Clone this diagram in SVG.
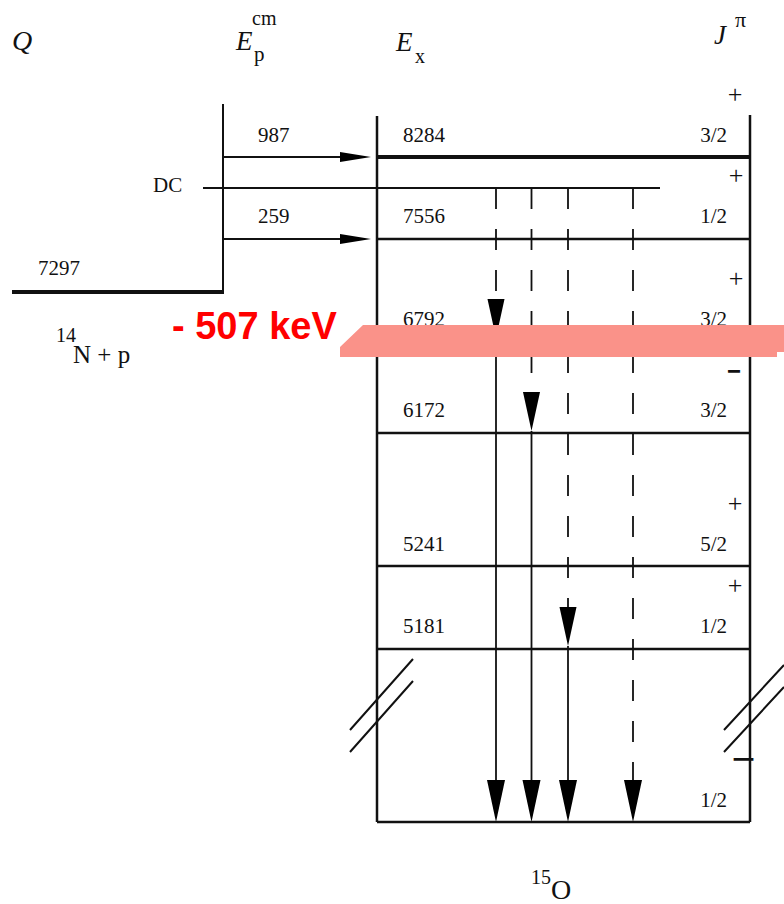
<svg xmlns="http://www.w3.org/2000/svg" width="784" height="904" viewBox="0 0 784 904">
<style>
.t{font-family:"Liberation Serif","Times New Roman",serif;fill:#111}
.n{font-size:21px}
.it{font-style:italic}
.pl{font-size:26px;text-anchor:middle}
.sp{text-anchor:end}
.mi{font-family:"Liberation Sans",Arial,sans-serif;font-weight:bold;font-size:26px;fill:#111}
.lv{stroke:#111;stroke-width:2.5;fill:none}
.ln{stroke:#111;stroke-width:2;fill:none}
.g{stroke:#111;stroke-width:1.8;fill:none}
.d{stroke-dasharray:21 20}
.ah{fill:#000}
</style>
<rect width="784" height="904" fill="#fff"/>

<g id="headers">
<text class="t it" x="12" y="50" font-size="28">Q</text>
<text class="t it" x="236" y="50" font-size="27">E</text>
<text class="t" x="252" y="25" font-size="20">cm</text>
<text class="t" x="254" y="61" font-size="21">p</text>
<text class="t it" x="396" y="51" font-size="27">E</text>
<text class="t" x="415" y="63" font-size="20">x</text>
<text class="t it" x="714" y="44" font-size="27">J</text>
<text class="t" x="735" y="27" font-size="22">π</text>
</g>

<g id="entrance">
<path class="lv" d="M223,104 V292" style="stroke-width:2"/>
<path class="lv" d="M12,292 H224" style="stroke-width:4"/>
<text class="t n" x="38" y="275">7297</text>
<text class="t" x="56" y="342" font-size="20">14</text>
<text class="t" x="73" y="363" font-size="25">N + p</text>
</g>

<g id="box">
<path class="lv" d="M377,116 V822 M750,115 V822"/>
</g>

<g id="level-8284">
<path class="lv" d="M377,157 H750" style="stroke-width:4"/>
<text class="t n" x="403" y="142">8284</text>
<text class="t n sp" x="727" y="142">3/2</text>
<text class="t pl" x="735" y="102.5">+</text>
</g>

<g id="level-7556">
<path class="lv" d="M377,239 H750"/>
<text class="t n" x="403" y="223">7556</text>
<text class="t n sp" x="727" y="223">1/2</text>
<text class="t pl" x="736" y="183.5">+</text>
</g>

<g id="level-6792">
<path class="lv" d="M377,341 H750"/>
<text class="t n" x="403" y="326">6792</text>
<text class="t n sp" x="727" y="326">3/2</text>
<text class="t pl" x="736" y="286.5">+</text>
</g>

<g id="level-6172">
<path class="lv" d="M377,433 H750"/>
<text class="t n" x="403" y="417">6172</text>
<text class="t n sp" x="727" y="417">3/2</text>
<text class="mi" x="727" y="380" textLength="14" lengthAdjust="spacingAndGlyphs">−</text>
</g>

<g id="level-5241">
<path class="lv" d="M377,566 H750"/>
<text class="t n" x="403" y="551">5241</text>
<text class="t n sp" x="727" y="551">5/2</text>
<text class="t pl" x="735" y="511.5">+</text>
</g>

<g id="level-5181">
<path class="lv" d="M377,649 H750"/>
<text class="t n" x="403" y="633">5181</text>
<text class="t n sp" x="727" y="633">1/2</text>
<text class="t pl" x="735" y="593.5">+</text>
</g>

<g id="level-ground">
<path class="lv" d="M377,822 H750"/>
<text class="t n sp" x="727" y="807">1/2</text>
<text class="mi" x="732" y="768" textLength="23" lengthAdjust="spacingAndGlyphs">−</text>
<path class="ln" d="M350,730 L413,659 M350,752 L413,681 M724,730 L784,665 M724,752 L784,687"/>
<text class="t" x="531" y="884" font-size="20">15</text>
<text class="t" x="551" y="899" font-size="28">O</text>
</g>

<g id="dc">
<path class="ln" d="M203,188 H660"/>
<text class="t n" x="153" y="192">DC</text>
</g>

<g id="connectors">
<path class="ln" d="M224,157 H345"/>
<polygon class="ah" points="340,152 371,157 340,162"/>
<text class="t n" x="258" y="142">987</text>
<path class="ln" d="M224,239 H345"/>
<polygon class="ah" points="340,234 371,239 340,244"/>
<text class="t n" x="258" y="223">259</text>

<path class="g d" d="M496,188 V299"/>
<polygon class="ah" points="487.5,299 504.5,299 496,338"/>
<path class="g" d="M496,338 V782"/>
<polygon class="ah" points="487,780 505,780 496,822"/>

<path class="g d" d="M531.5,188 V392"/>
<polygon class="ah" points="523,392 540,392 531.5,431"/>
<path class="g" d="M531.5,431 V782"/>
<polygon class="ah" points="522.5,780 540.5,780 531.5,822"/>

<path class="g d" d="M568,188 V607"/>
<polygon class="ah" points="559.5,607 576.5,607 568,646"/>
<path class="g" d="M568,646 V782"/>
<polygon class="ah" points="559,780 577,780 568,822"/>

<path class="g d" d="M633,188 V782"/>
<polygon class="ah" points="624,780 642,780 633,822"/>
</g>

<g id="annotation">
<text x="172" y="339" font-family="Liberation Sans, Arial, sans-serif" font-weight="bold" font-size="38" fill="#ff0000">- 507 keV</text>
<polygon points="363,325 784,325 784,352 777,352 777,357 340,357 340,347" fill="#fa9289"/>
</g>
</svg>
